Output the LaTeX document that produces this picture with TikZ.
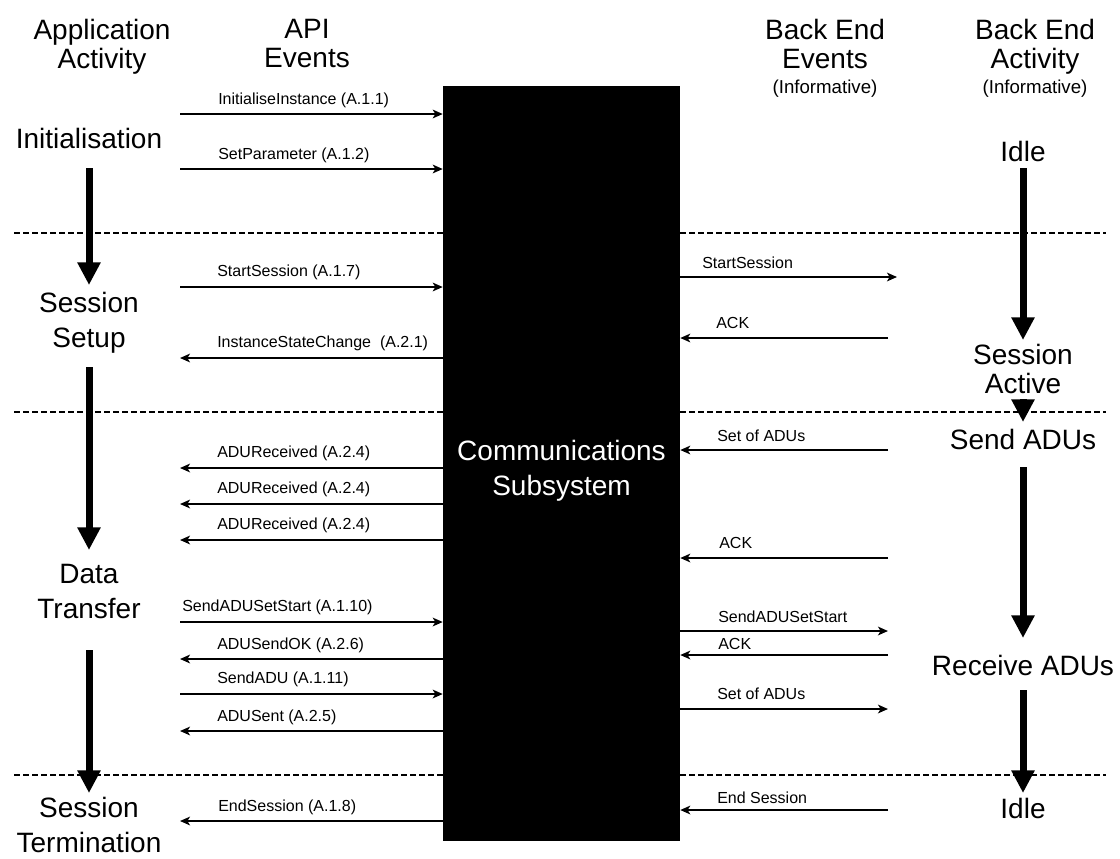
\documentclass[tikz,border=0pt]{standalone}
\usepackage{fontspec}
\setmainfont{Liberation Sans}
\usetikzlibrary{arrows.meta}

\begin{document}
\begin{tikzpicture}[x=0.75pt,y=-0.75pt,
  big/.style={font=\fontsize{21}{21.75}\selectfont, inner sep=0pt, align=center, anchor=north},
  bigw/.style={font=\fontsize{21}{26.5}\selectfont, inner sep=0pt, align=center, anchor=north},
  info/.style={font=\fontsize{14}{16}\selectfont, inner sep=0pt, anchor=north},
  lbl/.style={font=\fontsize{12}{14}\selectfont, inner sep=0pt, anchor=base west},
  msg/.style={line width=1.5pt, -{Stealth[length=7.5pt,width=6.5pt,inset=2pt]}},
  flow/.style={line width=5.25pt, -{Triangle[length=17pt,width=16.5pt]}},
  phase/.style={line width=1.5pt, dash pattern=on 4.5pt off 2.25pt},
]
\useasboundingbox (0,0) rectangle (1120,858);

% phase separators
\draw[phase] (14,233) -- (1106,233);
\draw[phase] (14,412) -- (1106,412);
\draw[phase] (14,775) -- (1106,775);

% communications subsystem
\node[fill=black, minimum width=177.75pt, minimum height=566.25pt, inner sep=0pt] (box) at (561.5,463.5) {};
\node[bigw, text=white] (comm) at (561.5,440) {Communications\\Subsystem};

% column headings
\node[big] (hApp) at (102,19) {Application\\Activity};
\node[big] (hApi) at (307,19) {API\\Events};
\node[big] (hBee) at (825,19) {Back End\\Events};
\node[big] (hBea) at (1035,19) {Back End\\Activity};
\node[info] (iBee) at (825,80) {(Informative)};
\node[info] (iBea) at (1035,80) {(Informative)};

% application activity
\node[bigw] (init) at (89,128) {Initialisation};
\node[bigw] (setup) at (89,292) {Session\\Setup};
\node[bigw] (transfer) at (89,564) {Data\\Transfer};
\node[bigw] (term) at (89,797) {Session\\Termination};
\draw[flow] (init.south |- 0,168) -- (setup.north |- 0,285);
\draw[flow] (setup.south |- 0,367) -- (transfer.north |- 0,550);
\draw[flow] (transfer.south |- 0,650) -- (term.north |- 0,793);

% back end activity
\node[big] (idleA) at (1023,141) {Idle};
\node[big] (active) at (1023,344) {Session\\Active};
\node[big] (sendadu) at (1023,429) {Send ADUs};
\node[big] (recvadu) at (1023,655) {Receive ADUs};
\node[big] (idleB) at (1023,798) {Idle};
\draw[flow] (idleA.south |- 0,168) -- (active.north |- 0,340);
\draw[flow] (active.south |- 0,399) -- (sendadu.north |- 0,422);
\draw[flow] (sendadu.south |- 0,467) -- (recvadu.north |- 0,638);
\draw[flow] (recvadu.south |- 0,690) -- (idleB.north |- 0,793);

% API events
\coordinate (a1) at (180,114);
\coordinate (a2) at (180,169);
\coordinate (a3) at (180,287);
\coordinate (a4) at (180,358);
\coordinate (a5) at (180,468);
\coordinate (a6) at (180,504);
\coordinate (a7) at (180,540);
\coordinate (a8) at (180,622);
\coordinate (a9) at (180,659);
\coordinate (a10) at (180,694);
\coordinate (a11) at (180,731);
\coordinate (a12) at (180,821);
\draw[msg] (a1) -- (a1 -| box.west);
\draw[msg] (a2) -- (a2 -| box.west);
\draw[msg] (a3) -- (a3 -| box.west);
\draw[msg] (a4 -| box.west) -- (a4);
\draw[msg] (a5 -| box.west) -- (a5);
\draw[msg] (a6 -| box.west) -- (a6);
\draw[msg] (a7 -| box.west) -- (a7);
\draw[msg] (a8) -- (a8 -| box.west);
\draw[msg] (a9 -| box.west) -- (a9);
\draw[msg] (a10) -- (a10 -| box.west);
\draw[msg] (a11 -| box.west) -- (a11);
\draw[msg] (a12 -| box.west) -- (a12);
\node[lbl] (la1) at (218,104) {InitialiseInstance (A.1.1)};
\node[lbl] (la2) at (218,159) {SetParameter (A.1.2)};
\node[lbl] (la3) at (217,276) {StartSession (A.1.7)};
\node[lbl] (la4) at (217,347) {InstanceStateChange\ \ (A.2.1)};
\node[lbl] (la5) at (217,457) {ADUReceived (A.2.4)};
\node[lbl] (la6) at (217,493) {ADUReceived (A.2.4)};
\node[lbl] (la7) at (217,529) {ADUReceived (A.2.4)};
\node[lbl] (la8) at (182,611) {SendADUSetStart (A.1.10)};
\node[lbl] (la9) at (217,649) {ADUSendOK (A.2.6)};
\node[lbl] (la10) at (217,683) {SendADU (A.1.11)};
\node[lbl] (la11) at (217,721) {ADUSent (A.2.5)};
\node[lbl] (la12) at (218,811) {EndSession (A.1.8)};

% back end events
\coordinate (b1) at (897,277);
\coordinate (b2) at (888,338);
\coordinate (b3) at (888,450);
\coordinate (b4) at (888,558);
\coordinate (b5) at (888,631);
\coordinate (b6) at (888,655);
\coordinate (b7) at (888,709);
\coordinate (b8) at (888,810);
\draw[msg] (b1 -| box.east) -- (b1);
\draw[msg] (b2) -- (b2 -| box.east);
\draw[msg] (b3) -- (b3 -| box.east);
\draw[msg] (b4) -- (b4 -| box.east);
\draw[msg] (b5 -| box.east) -- (b5);
\draw[msg] (b6) -- (b6 -| box.east);
\draw[msg] (b7 -| box.east) -- (b7);
\draw[msg] (b8) -- (b8 -| box.east);
\node[lbl] (lb1) at (702,268) {StartSession};
\node[lbl] (lb2) at (716,328) {ACK};
\node[lbl] (lb3) at (717,441) {Set of ADUs};
\node[lbl] (lb4) at (719,548) {ACK};
\node[lbl] (lb5) at (718,622) {SendADUSetStart};
\node[lbl] (lb6) at (718,649) {ACK};
\node[lbl] (lb7) at (717,699) {Set of ADUs};
\node[lbl] (lb8) at (717,803) {End Session};
\end{tikzpicture}
\end{document}
